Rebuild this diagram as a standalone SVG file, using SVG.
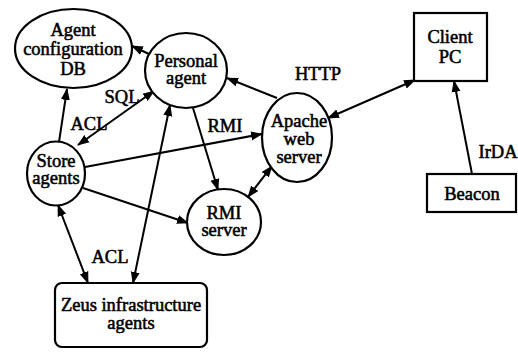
<svg xmlns="http://www.w3.org/2000/svg" width="518" height="352" viewBox="0 0 518 352">
  <style>
    .shape { fill: #fff; stroke: #000; stroke-width: 2.2; }
    .label { font-family: 'Liberation Serif', 'Times New Roman', 'DejaVu Serif', serif; font-size: 18.5px; font-weight: normal; fill: #000; stroke: #000; stroke-width: 0.55; text-anchor: middle; }
    .edge { fill: none; stroke: #000; stroke-width: 2; }
  </style>
  <defs>
    <marker id="arrow" markerUnits="userSpaceOnUse" markerWidth="12" markerHeight="10" viewBox="0 0 12 10" refX="11" refY="5" orient="auto-start-reverse">
      <path d="M0,0.5 L12,5 L0,9.5 z" fill="#000"/>
    </marker>
  </defs>
  <rect width="518" height="352" fill="#fff"/>

  <!-- connectors and their labels -->
  <g id="connectors">
    <line class="edge" x1="59" y1="142" x2="67" y2="89" marker-end="url(#arrow)"/>
    <line class="edge" x1="149" y1="54" x2="132" y2="46" marker-end="url(#arrow)"/>
    <line class="edge" x1="78" y1="145" x2="154" y2="91" marker-start="url(#arrow)" marker-end="url(#arrow)"/>
    <line class="edge" x1="85" y1="167" x2="262" y2="134" marker-end="url(#arrow)"/>
    <line class="edge" x1="83" y1="188" x2="188" y2="223" marker-end="url(#arrow)"/>
    <line class="edge" x1="193" y1="108" x2="218" y2="190" marker-end="url(#arrow)"/>
    <line class="edge" x1="133" y1="283" x2="170" y2="105" marker-start="url(#arrow)" marker-end="url(#arrow)"/>
    <line class="edge" x1="58" y1="205" x2="88" y2="283" marker-start="url(#arrow)" marker-end="url(#arrow)"/>
    <line class="edge" x1="277" y1="98" x2="227" y2="78" marker-end="url(#arrow)"/>
    <line class="edge" x1="248" y1="197" x2="272" y2="166" marker-start="url(#arrow)" marker-end="url(#arrow)"/>
    <line class="edge" x1="328" y1="118" x2="415" y2="80" marker-start="url(#arrow)" marker-end="url(#arrow)"/>
    <line class="edge" x1="472" y1="174" x2="454" y2="81" marker-end="url(#arrow)"/>
    <text class="label" x="122" y="103">SQL</text>
    <text class="label" x="89" y="130">ACL</text>
    <text class="label" x="225" y="132">RMI</text>
    <text class="label" x="110" y="263">ACL</text>
    <text class="label" x="318" y="80">HTTP</text>
    <text class="label" x="498" y="158">IrDA</text>
  </g>

  <g id="agent-config-db">
    <ellipse class="shape" cx="73.5" cy="48.5" rx="58.5" ry="39.5"/>
    <text class="label" x="73" y="36">Agent</text>
    <text class="label" x="73" y="55">configuration</text>
    <text class="label" x="73" y="75">DB</text>
  </g>

  <g id="personal-agent">
    <ellipse class="shape" cx="186" cy="70.5" rx="41" ry="37.5"/>
    <text class="label" x="186" y="67">Personal</text>
    <text class="label" x="186" y="84">agent</text>
  </g>

  <g id="store-agents">
    <ellipse class="shape" cx="56" cy="173.5" rx="29" ry="32"/>
    <text class="label" x="56" y="167">Store</text>
    <text class="label" x="56" y="184">agents</text>
  </g>

  <g id="rmi-server">
    <ellipse class="shape" cx="224" cy="222" rx="37" ry="33"/>
    <text class="label" x="224" y="219">RMI</text>
    <text class="label" x="224" y="236">server</text>
  </g>

  <g id="apache-web-server">
    <ellipse class="shape" cx="297" cy="137.5" rx="35" ry="44.5"/>
    <text class="label" x="299" y="127">Apache</text>
    <text class="label" x="299" y="145">web</text>
    <text class="label" x="299" y="163">server</text>
  </g>

  <g id="client-pc">
    <rect class="shape" x="414" y="13" width="73" height="68"/>
    <text class="label" x="450" y="43">Client</text>
    <text class="label" x="450" y="63">PC</text>
  </g>

  <g id="beacon">
    <rect class="shape" x="427" y="174" width="89" height="38"/>
    <text class="label" x="472" y="200">Beacon</text>
  </g>

  <g id="zeus-infrastructure">
    <rect class="shape" x="55" y="283" width="152" height="64" rx="7"/>
    <text class="label" x="131" y="311">Zeus infrastructure</text>
    <text class="label" x="131" y="329">agents</text>
  </g>
</svg>
